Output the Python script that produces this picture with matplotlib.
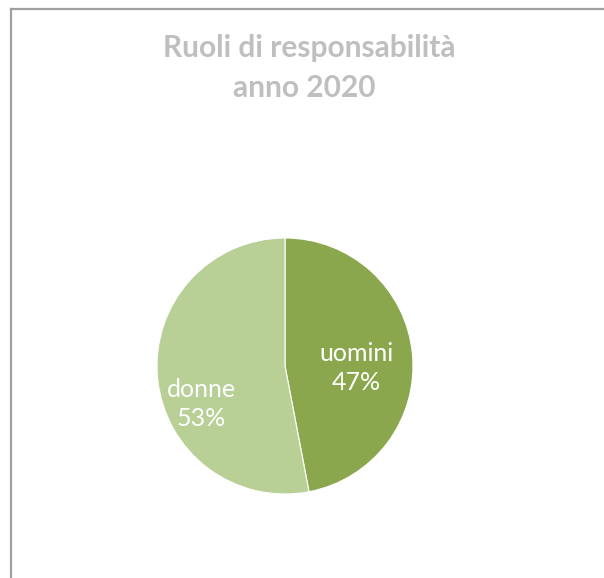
import numpy as np
import matplotlib.pyplot as plt
from matplotlib.lines import Line2D

# Ruoli di responsabilità, anno 2020
categorie = ['uomini', 'donne']
percentuali = [47, 53]
colori = ['#8aa74e', '#b8cf96']
distanze = [0.555, 0.72]   # distanza etichetta dal centro (frazione del raggio)
angoli_extra = [-7, 19]    # spostamento angolare delle etichette

plt.rcParams['font.family'] = ['Lato', 'DejaVu Sans']

fig = plt.figure(figsize=(6.04, 5.78), dpi=100)

# cornice del grafico (bordo sinistro e superiore)
fig.add_artist(Line2D([10.5/604, 10.5/604], [0, 1 - 8.5/578], color='#a0a0a0', lw=1.6,
                      transform=fig.transFigure))
fig.add_artist(Line2D([10.5/604, 1], [1 - 8.5/578, 1 - 8.5/578], color='#a0a0a0', lw=1.6,
                      transform=fig.transFigure))

fig.text(309/604, 1 - 48/578, 'Ruoli di responsabilità', ha='center', va='center',
         fontsize=21.5, fontweight='bold', color='#bfbfbf')
fig.text(304/604, 1 - 88/578, 'anno 2020', ha='center', va='center',
         fontsize=21.5, fontweight='bold', color='#bfbfbf')

r = 128
ax = fig.add_axes([(285 - r)/604, (578 - 366 - r)/578, 2*r/604, 2*r/578])
wedges, _ = ax.pie(percentuali, colors=colori, startangle=90, counterclock=False,
                   radius=1, wedgeprops=dict(linewidth=0.8, edgecolor='white'))
ax.set_xlim(-1, 1)
ax.set_ylim(-1, 1)
ax.set_aspect('equal')
ax.axis('off')

for w, nome, p, d, da in zip(wedges, categorie, percentuali, distanze, angoli_extra):
    theta = np.deg2rad((w.theta1 + w.theta2) / 2 + da)
    ax.text(d*np.cos(theta), d*np.sin(theta), f'{nome}\n{p}%', ha='center', va='center',
            color='white', fontsize=18, linespacing=1.28)

fig.savefig('out.png', dpi=100)
